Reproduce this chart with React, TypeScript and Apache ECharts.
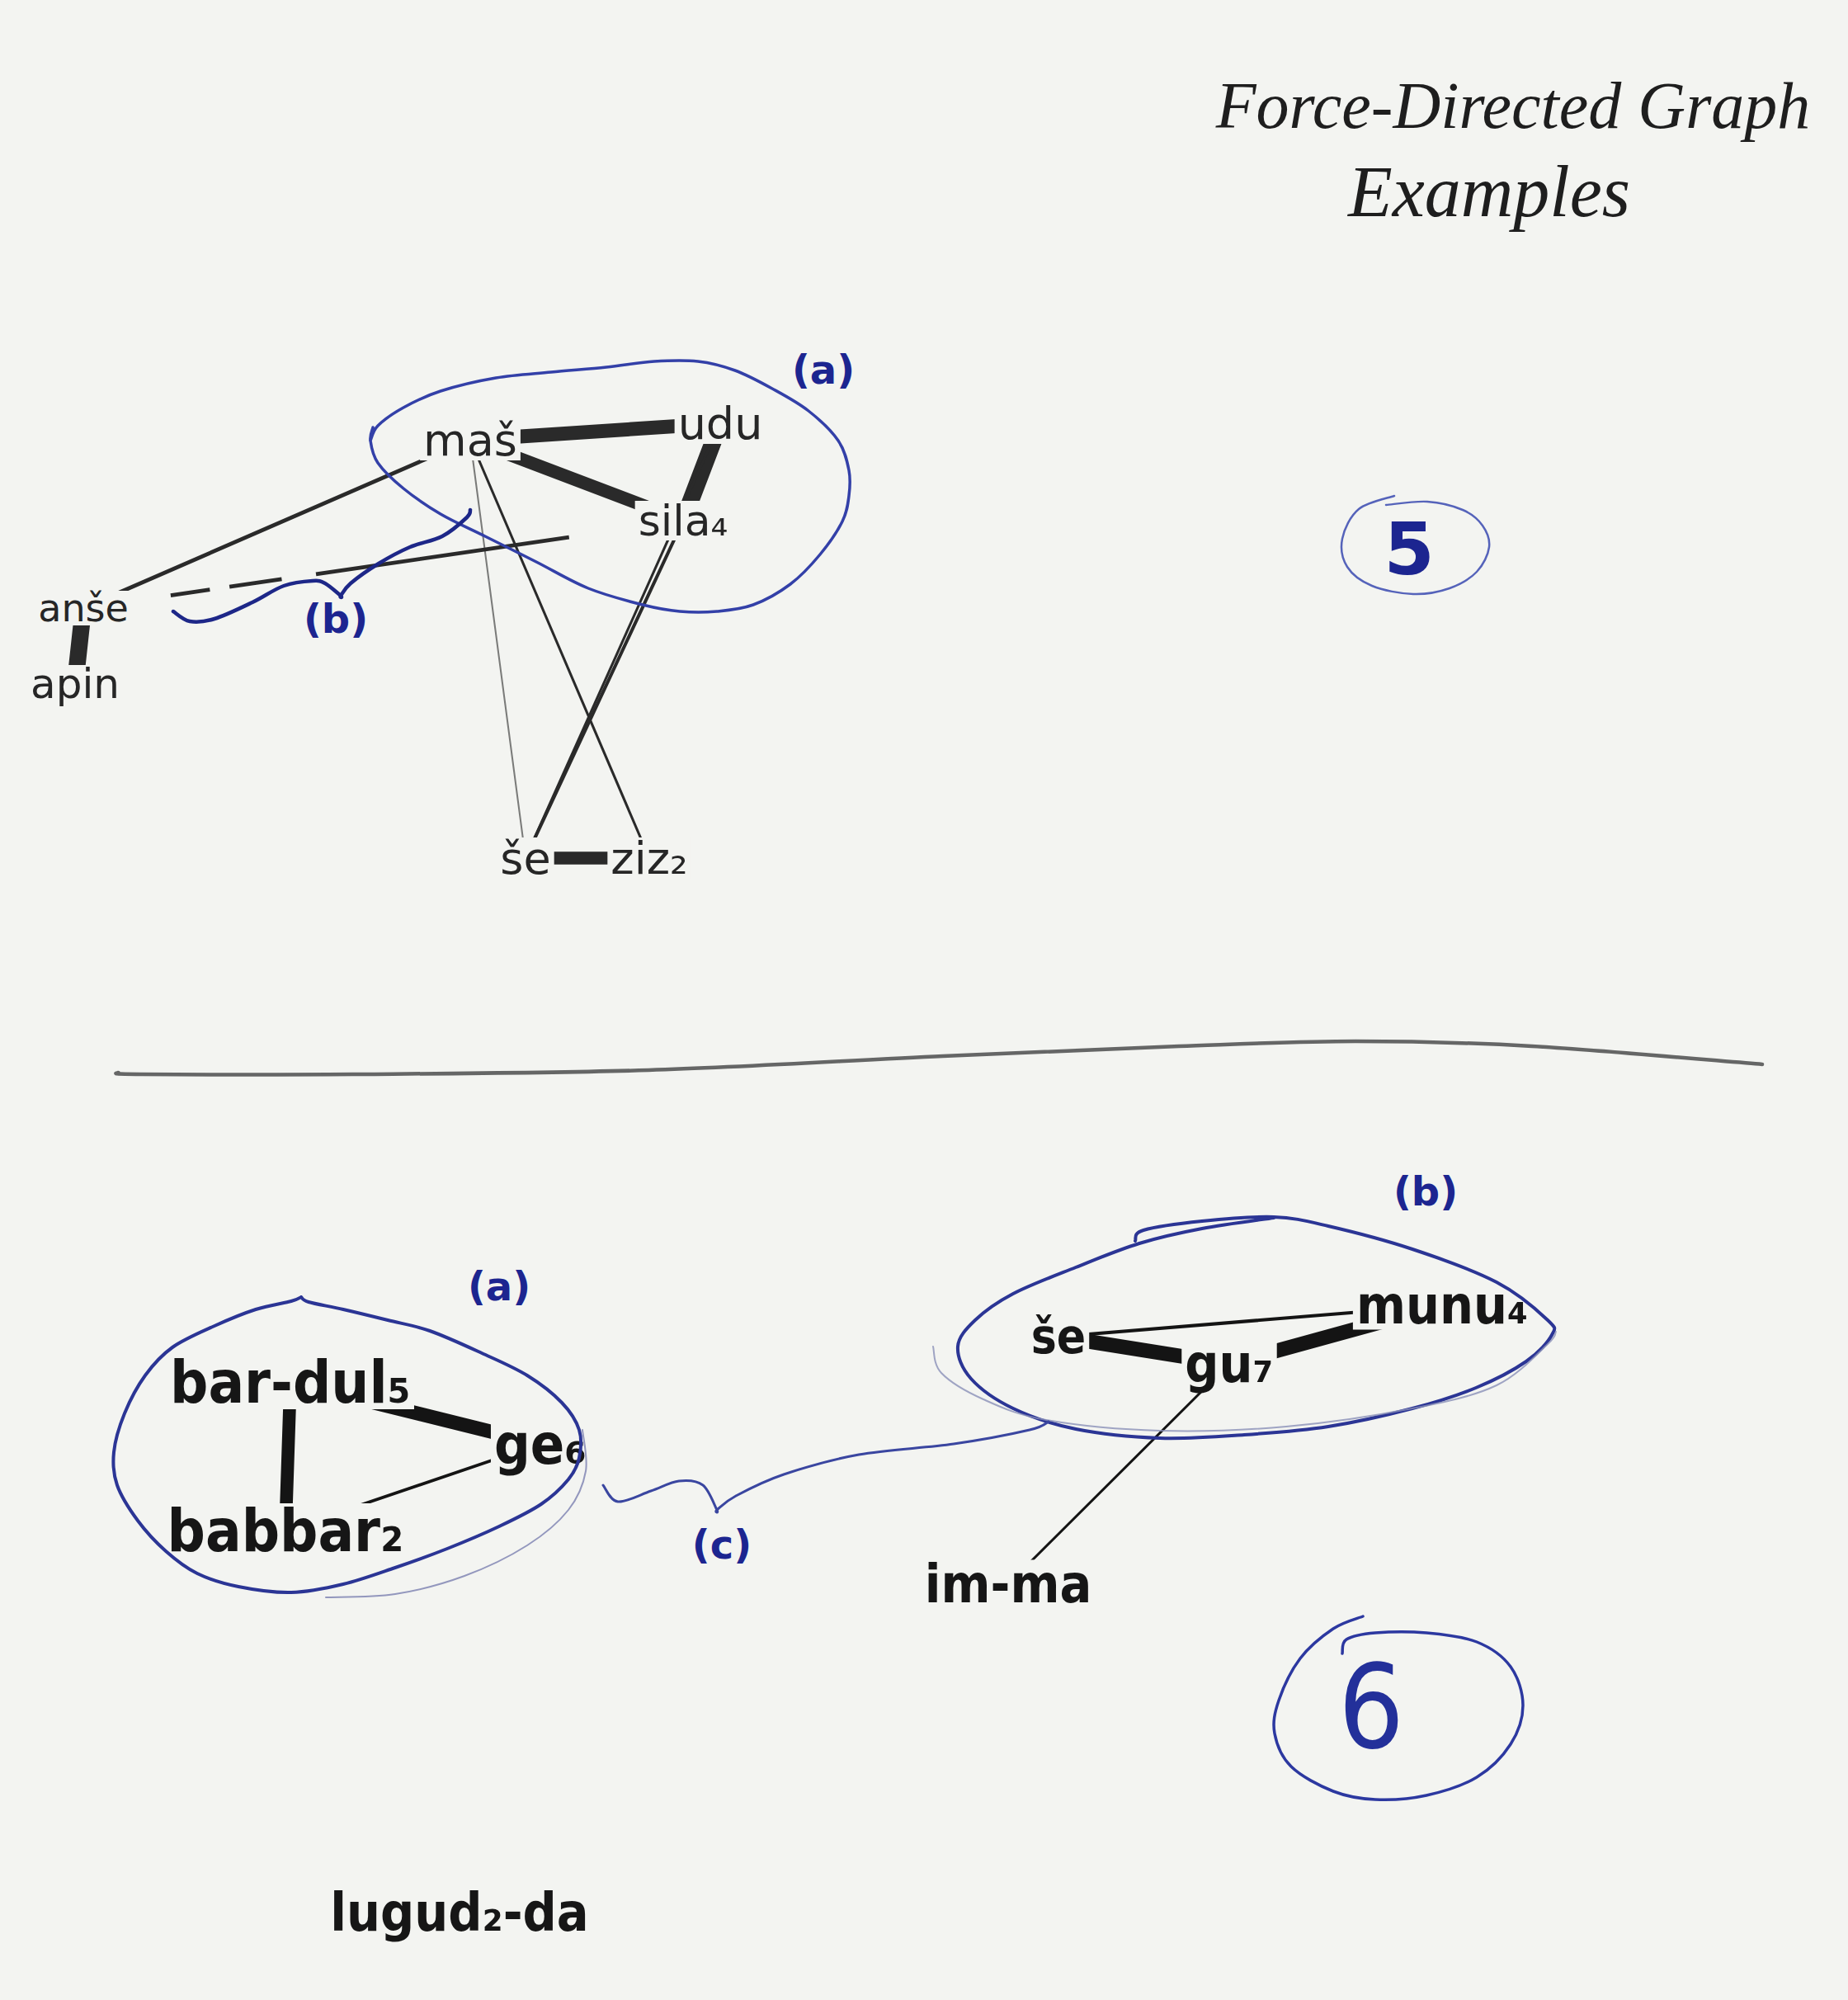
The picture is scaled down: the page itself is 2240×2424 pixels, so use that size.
import React, { useEffect, useRef } from "react";
import * as echarts from "echarts";

const PAGE_W = 2240;
const PAGE_H = 2424;
const PAPER = "#f3f4f1";
const INK = "#161616";
const PENCIL = "#262626";
const NAVY = "#1c2590";

// ---------- Example 5 (top graph): nodes [label, x, y] ----------
const topNodes: [string, number, number][] = [
  ["maš", 570, 533],
  ["udu", 873, 513],
  ["sila₄", 828, 631],
  ["anše", 101, 737],
  ["apin", 91, 829],
  ["še", 637, 1040],
  ["ziz₂", 787, 1040],
];
// links [source, target, weight, kind]
const topLinks: [string, string, number, string][] = [
  ["maš", "udu", 5, "solid"],
  ["maš", "sila₄", 4.6, "solid"],
  ["udu", "sila₄", 6, "solid"],
  ["anše", "apin", 6, "solid"],
  ["še", "ziz₂", 4.6, "solid"],
  ["anše", "maš", 1.4, "solid"],
  ["anše", "sila₄", 1.4, "broken"],
  ["maš", "še", 0.6, "solid"],
  ["maš", "ziz₂", 0.9, "solid"],
  ["udu", "še", 0.9, "solid"],
  ["sila₄", "še", 1.2, "solid"],
];

// ---------- Example 6 (bottom graph) ----------
const bottomNodes: [string, number, number][] = [
  ["bar-dul₅", 352, 1675],
  ["ge₆", 655, 1750],
  ["babbar₂", 346, 1855],
  ["še", 1283, 1620],
  ["gu₇", 1490, 1653],
  ["munu₄", 1748, 1582],
  ["im-ma", 1222, 1920],
  ["lugud₂-da", 557, 2318],
];
const bottomLinks: [string, string, number, string][] = [
  ["bar-dul₅", "babbar₂", 4.6, "solid"],
  ["bar-dul₅", "ge₆", 5, "solid"],
  ["babbar₂", "ge₆", 1.1, "solid"],
  ["še", "gu₇", 5.2, "solid"],
  ["gu₇", "munu₄", 5.2, "solid"],
  ["še", "munu₄", 1.2, "solid"],
  ["gu₇", "im-ma", 0.9, "solid"],
];

// ---------- hand-drawn cluster outlines, braces, rings, divider ----------
const hullTopA: number[][] = [
  [452, 522], [449, 534], [458, 516], [489, 494], [534, 474], [601, 458], [668, 451], [735, 445],
  [793, 438], [846, 438], [891, 449], [936, 471], [980, 498], [1016, 534], [1029, 570],
  [1029, 601], [1021, 632], [994, 672], [958, 708], [913, 733], [869, 741], [824, 741],
  [779, 733], [713, 713], [650, 681], [588, 650], [534, 623], [489, 592], [458, 561],
  [449, 534], [452, 518],
];
const braceTopB: number[][] = [
  [210, 741], [230, 753], [260, 750], [306, 730], [344, 710], [379, 704], [394, 707],
  [413, 722], [413, 722], [425, 707], [459, 683], [497, 663], [536, 650], [566, 627], [570, 618],
];
const hullBottomA: number[][] = [
  [365, 1572], [374, 1578], [416, 1587], [470, 1600], [521, 1613], [584, 1640],
  [639, 1667], [681, 1700], [702, 1733], [702, 1767], [689, 1793], [656, 1823],
  [605, 1850], [542, 1877], [479, 1900], [416, 1920], [353, 1930], [289, 1923],
  [239, 1907], [201, 1880], [167, 1843], [142, 1800], [138, 1760], [151, 1713],
  [176, 1667], [209, 1633], [260, 1607], [310, 1587], [353, 1577], [365, 1572],
];
const hullBottomAOuter: number[][] = [
  [706, 1733], [710, 1783], [689, 1830], [639, 1873], [563, 1910], [479, 1932], [395, 1936],
];
const hullBottomB: number[][] = [
  [1376, 1504], [1386, 1491], [1457, 1480], [1544, 1475], [1610, 1486], [1712, 1514],
  [1814, 1554], [1876, 1600], [1881, 1618], [1850, 1650], [1789, 1682], [1712, 1707],
  [1610, 1729], [1508, 1739], [1406, 1743], [1304, 1732], [1228, 1707], [1177, 1671],
  [1161, 1632], [1182, 1600], [1228, 1568], [1304, 1536], [1381, 1507], [1457, 1489],
  [1544, 1476],
];
const hullBottomBOuter: number[][] = [
  [1131, 1632], [1141, 1664], [1192, 1696], [1268, 1721], [1406, 1734], [1559, 1729],
  [1712, 1707], [1814, 1679], [1876, 1629], [1886, 1614],
];
const braceBottomC: number[][] = [
  [731, 1800], [749, 1820], [789, 1807], [823, 1795], [852, 1800], [869, 1830], [869, 1830],
  [892, 1813], [950, 1787], [1041, 1763], [1156, 1750], [1248, 1733], [1271, 1723],
];
const ring5: number[][] = [
  [1690, 601], [1647, 617], [1627, 653], [1633, 687], [1663, 710], [1713, 720],
  [1757, 713], [1790, 693], [1805, 663], [1797, 637], [1773, 618], [1730, 608], [1680, 612],
];
const ring6: number[][] = [
  [1652, 1959], [1616, 1974], [1576, 2010], [1550, 2061], [1545, 2101], [1565, 2141],
  [1616, 2171], [1667, 2181], [1729, 2176], [1790, 2154], [1831, 2114], [1846, 2067],
  [1831, 2020], [1790, 1990], [1729, 1979], [1667, 1979], [1632, 1987], [1627, 2004],
];
const divider: number[][] = [
  [143, 1300], [170, 1302], [428, 1302], [786, 1297], [1143, 1280], [1429, 1268],
  [1643, 1262], [1857, 1268], [2136, 1290],
];

// ---------- texts: [text, x, y] ----------
const titleLines: [string, number, number][] = [
  ["Force-Directed Graph", 1834, 128],
  ["Examples", 1805, 232],
];
const blueMarks: [string, number, number][] = [
  ["(a)", 998, 448],
  ["(b)", 407, 750],
  ["(a)", 605, 1559],
  ["(b)", 1728, 1444],
  ["(c)", 875, 1872],
  ["5", 1708, 665],
];
const pageSix: [string, number, number][] = [["6", 1662, 2069]];

// label font sizes (style, kept apart from the data)
const topFont: Record<string, number> = {
  "maš": 54, udu: 54, "sila₄": 52, "anše": 46, apin: 50, "še": 54, "ziz₂": 54,
};
const bottomFont: Record<string, number> = {
  "bar-dul₅": 72, "ge₆": 68, "babbar₂": 72, "še": 58, "gu₇": 64, "munu₄": 64,
  "im-ma": 64, "lugud₂-da": 64,
};
// broken (hand-dashed) stroke pattern
const brokenDash = [1, 106, 48, 24, 64, 42, 310, 400];

function graphSeries(
  nodes: [string, number, number][],
  links: [string, string, number, string][],
  fonts: Record<string, number>,
  family: string,
  weight: string,
  color: string,
  edgeColor: string
) {
  return {
    type: "graph",
    coordinateSystem: "cartesian2d",
    layout: "none",
    silent: true,
    z: 3,
    symbol: "circle",
    symbolSize: 1,
    itemStyle: { color: "rgba(0,0,0,0)", opacity: 1 },
    label: {
      show: true,
      position: "inside",
      formatter: "{b}",
      color,
      fontFamily: family,
      fontWeight: weight,
      backgroundColor: PAPER,
      padding: [0, 4],
    },
    lineStyle: { color: edgeColor, curveness: 0, cap: "round", opacity: 1 },
    emphasis: { disabled: true },
    data: nodes.map(([name, x, y]) => ({
      name,
      value: [x, y],
      label: { fontSize: fonts[name], lineHeight: Math.round(fonts[name] * 0.92) },
    })),
    links: links.map(([source, target, w, kind]) => ({
      source,
      target,
      lineStyle: {
        width: w * 3.4,
        type: kind === "broken" ? brokenDash : "solid",
        opacity: w < 0.8 ? 0.6 : 1,
        cap: kind === "broken" ? "butt" : "round",
      },
    })),
  };
}

// Catmull-Rom spline through pixel points -> SVG path data
function splinePath(p: number[][]): string {
  if (p.length < 2) return "";
  let d = `M${p[0][0]},${p[0][1]}`;
  for (let i = 0; i < p.length - 1; i++) {
    const p0 = p[i - 1] || p[i];
    const p1 = p[i];
    const p2 = p[i + 1];
    const p3 = p[i + 2] || p[i + 1];
    const c1x = p1[0] + (p2[0] - p0[0]) / 6;
    const c1y = p1[1] + (p2[1] - p0[1]) / 6;
    const c2x = p2[0] - (p3[0] - p1[0]) / 6;
    const c2y = p2[1] - (p3[1] - p1[1]) / 6;
    d += ` C${c1x},${c1y} ${c2x},${c2y} ${p2[0]},${p2[1]}`;
  }
  return d;
}

function stroke(points: number[][], color: string, width: number, opacity = 1) {
  return {
    type: "custom",
    coordinateSystem: "cartesian2d",
    silent: true,
    z: 5,
    clip: false,
    data: [[points[0][0], points[0][1]]],
    renderItem: (_params: any, api: any) => {
      const px = points.map((pt) => api.coord(pt));
      return {
        type: "path",
        shape: { pathData: splinePath(px) },
        style: {
          fill: "none",
          stroke: color,
          lineWidth: width,
          opacity,
          lineCap: "round",
          lineJoin: "round",
        },
      };
    },
  };
}

function textSeries(
  items: [string, number, number][],
  size: number,
  family: string,
  weight: string | number,
  style: string,
  color: string
) {
  return {
    type: "scatter",
    silent: true,
    z: 6,
    symbolSize: 1,
    itemStyle: { color: "rgba(0,0,0,0)", opacity: 1 },
    label: {
      show: true,
      position: "inside",
      formatter: "{b}",
      fontSize: size,
      fontFamily: family,
      fontWeight: weight,
      fontStyle: style,
      color,
      opacity: 1,
    },
    emphasis: { disabled: true },
    data: items.map(([t, x, y]) => ({ name: t, value: [x, y] })),
  };
}

export default function App() {
  const ref = useRef<HTMLDivElement>(null);
  useEffect(() => {
    document.body.style.margin = "0";
    document.body.style.overflow = "hidden";
    const chart = echarts.init(ref.current!, undefined, { renderer: "svg" });
    const sans = "'DejaVu Sans', sans-serif";
    const cond = "'DejaVu Sans Condensed', 'DejaVu Sans', sans-serif";
    const option: any = {
      animation: false,
      backgroundColor: PAPER,
      grid: { left: 0, right: 0, top: 0, bottom: 0 },
      xAxis: { type: "value", min: 0, max: PAGE_W, show: false },
      yAxis: { type: "value", min: 0, max: PAGE_H, inverse: true, show: false },
      series: [
        stroke(divider, "#555757", 4.5, 0.9),
        graphSeries(topNodes, topLinks, topFont, sans, "normal", PENCIL, "#2a2a2a"),
        graphSeries(bottomNodes, bottomLinks, bottomFont, cond, "bold", INK, "#141414"),
        stroke(hullTopA, "#3340a8", 3.5),
        stroke(braceTopB, "#1d2788", 4.5),
        stroke(hullBottomA, "#2b3595", 4),
        stroke(hullBottomAOuter, "#7a80b0", 2, 0.8),
        stroke(hullBottomB, "#2b3595", 4),
        stroke(hullBottomBOuter, "#8a90b8", 2, 0.8),
        stroke(braceBottomC, "#3a46a0", 3),
        stroke(ring5, "#5563ba", 2.5),
        stroke(ring6, "#2c38a0", 3.5),
        textSeries(titleLines.slice(0, 1), 80, "'Liberation Serif', serif", "normal", "italic", "#1e1e1e"),
        textSeries(titleLines.slice(1), 88, "'Liberation Serif', serif", "normal", "italic", "#1e1e1e"),
        textSeries(blueMarks.slice(0, 5), 48, sans, "bold", "normal", NAVY),
        textSeries(blueMarks.slice(5), 88, sans, "bold", "normal", NAVY),
        textSeries(pageSix, 140, cond, 300, "normal", "#23309a"),
      ],
    };
    chart.setOption(option);
    return () => chart.dispose();
  }, []);
  return <div ref={ref} style={{ width: PAGE_W, height: PAGE_H }} />;
}
